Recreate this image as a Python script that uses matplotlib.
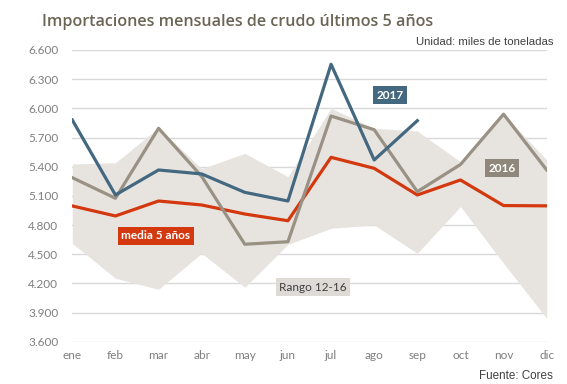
import numpy as np
import matplotlib.pyplot as plt

meses = ['ene', 'feb', 'mar', 'abr', 'may', 'jun', 'jul', 'ago', 'sep', 'oct', 'nov', 'dic']

# miles de toneladas
rango_min = [4612, 4252, 4139, 4509, 4160, 4600, 4766, 4800, 4509, 4990, 4406, 3840]
rango_max = [5428, 5441, 5800, 5380, 5537, 5297, 6000, 5795, 5767, 5451, 5940, 5469]
media = [4996, 4893, 5047, 5006, 4913, 4844, 5496, 5383, 5109, 5263, 5000, 4997]
a2016 = [5287, 5075, 5795, 5300, 4602, 4628, 5921, 5780, 5143, 5422, 5940, 5366]
a2017 = [5880, 5109, 5366, 5325, 5136, 5047, 6453, 5469, 5873]

yticks = [3600, 3900, 4200, 4500, 4800, 5100, 5400, 5700, 6000, 6300, 6600]

c_band = '#e7e4e0'
c_2016 = '#9a9185'
c_2017 = '#436880'
c_media = '#d3380e'

plt.rcParams['font.family'] = ['Lato', 'DejaVu Sans']

fig = plt.figure(figsize=(5.67, 3.84), dpi=100)
ax = fig.add_axes([0.1275, 0.1102, 0.8367, 0.7596])

x = np.arange(len(meses))
ax.fill_between(x, rango_min, rango_max, color=c_band, lw=0, zorder=1)
ax.plot(x, media, color=c_media, lw=2.3, zorder=3)
ax.plot(x, a2016, color=c_2016, lw=2.3, zorder=4)
ax.plot(x[:len(a2017)], a2017, color=c_2017, lw=2.3, zorder=5)

ax.set_xlim(0, 11)
ax.set_ylim(3600, 6600)
ax.set_yticks(yticks)
ax.set_yticklabels([f'{v/1000:.3f}' for v in yticks])
ax.set_xticks(x)
ax.set_xticklabels(meses)
ax.grid(axis='y', color='#d9d9d9', lw=1, zorder=0)
ax.set_axisbelow(True)
for s in ax.spines.values():
    s.set_visible(False)
ax.tick_params(length=0, labelsize=8.5, colors='#7f7f7f', pad=6)
ax.tick_params(axis='y', pad=10)

def etiqueta(xx, yy, txt, fc, tc='white'):
    ax.text(xx, yy, txt, ha='center', va='center', fontsize=8.5, color=tc,
            fontweight='bold' if tc == 'white' else 'normal', zorder=6,
            bbox=dict(boxstyle='square,pad=0.3', fc=fc, ec='none'))

etiqueta(7.37, 6137, '2017', c_2017)
etiqueta(9.96, 5386, '2016', '#8f877b')
etiqueta(1.94, 4687, 'media 5 años', c_media)
etiqueta(5.58, 4162, 'Rango 12-16', '#dedbd7', tc='#3f3f3f')

fig.text(42 / 567, 1 - 22 / 384, 'Importaciones mensuales de crudo últimos 5 años',
         fontsize=11.6, color='#6b6556', family='Open Sans', fontweight='semibold',
         va='center')
fig.text(553 / 567, 1 - 42 / 384, 'Unidad: miles de toneladas', fontsize=8.2,
         color='#404040', family='Liberation Sans', ha='right', va='center')
fig.text(553 / 567, 1 - 376 / 384, 'Fuente: Cores', fontsize=8.4,
         color='#404040', family='Liberation Sans', ha='right', va='center')

fig.savefig('out.png', dpi=100, facecolor='white')
